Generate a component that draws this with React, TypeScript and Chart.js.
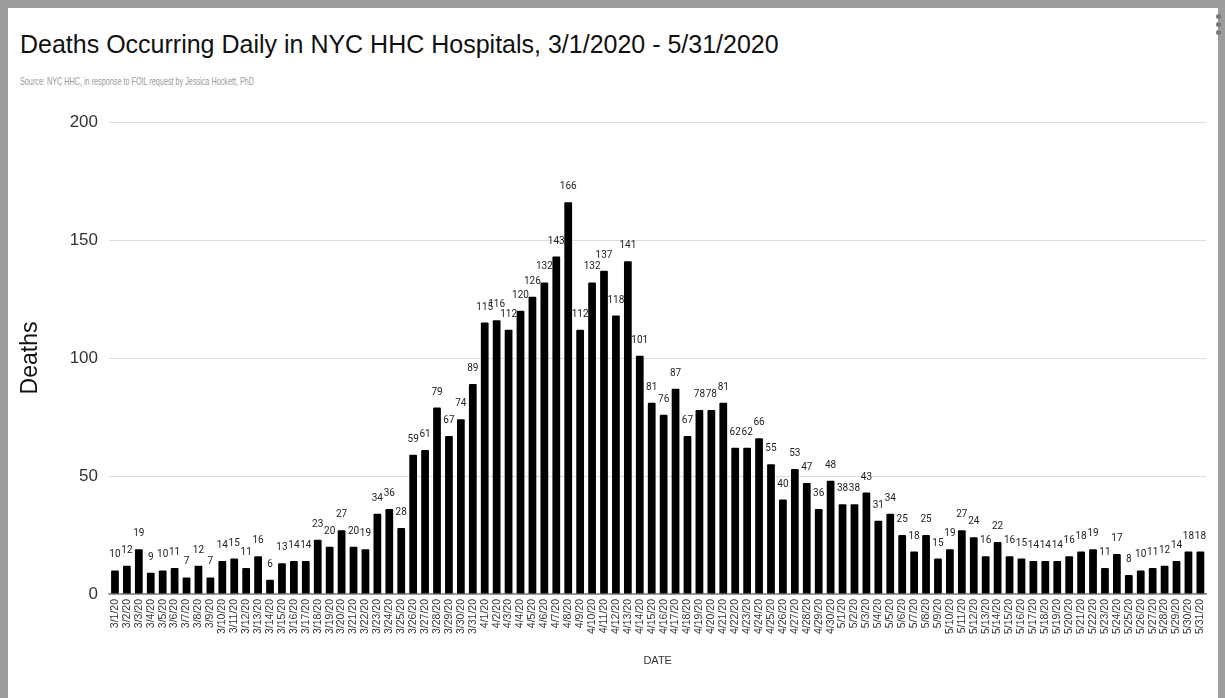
import React, { useEffect, useRef } from "react";
import Chart from "chart.js/auto";

const titleText = "Deaths Occurring Daily in NYC HHC Hospitals, 3/1/2020 - 5/31/2020";
const subtitleText = "Source: NYC HHC, in response to FOIL request by Jessica Hockett, PhD";
const yAxisTitle = "Deaths";
const xAxisTitle = "DATE";

const marchDates = [
  "3/1/20", "3/2/20", "3/3/20", "3/4/20", "3/5/20", "3/6/20", "3/7/20", "3/8/20", "3/9/20", "3/10/20",
  "3/11/20", "3/12/20", "3/13/20", "3/14/20", "3/15/20", "3/16/20", "3/17/20", "3/18/20", "3/19/20", "3/20/20",
  "3/21/20", "3/22/20", "3/23/20", "3/24/20", "3/25/20", "3/26/20", "3/27/20", "3/28/20", "3/29/20", "3/30/20",
  "3/31/20",
];
const aprilDates = [
  "4/1/20", "4/2/20", "4/3/20", "4/4/20", "4/5/20", "4/6/20", "4/7/20", "4/8/20", "4/9/20", "4/10/20",
  "4/11/20", "4/12/20", "4/13/20", "4/14/20", "4/15/20", "4/16/20", "4/17/20", "4/18/20", "4/19/20", "4/20/20",
  "4/21/20", "4/22/20", "4/23/20", "4/24/20", "4/25/20", "4/26/20", "4/27/20", "4/28/20", "4/29/20", "4/30/20",
];
const mayDates = [
  "5/1/20", "5/2/20", "5/3/20", "5/4/20", "5/5/20", "5/6/20", "5/7/20", "5/8/20", "5/9/20", "5/10/20",
  "5/11/20", "5/12/20", "5/13/20", "5/14/20", "5/15/20", "5/16/20", "5/17/20", "5/18/20", "5/19/20", "5/20/20",
  "5/21/20", "5/22/20", "5/23/20", "5/24/20", "5/25/20", "5/26/20", "5/27/20", "5/28/20", "5/29/20", "5/30/20",
  "5/31/20",
];

const marchDeaths = [10, 12, 19, 9, 10, 11, 7, 12, 7, 14, 15, 11, 16, 6, 13, 14, 14, 23, 20, 27, 20, 19, 34, 36, 28, 59, 61, 79, 67, 74, 89];
const aprilDeaths = [115, 116, 112, 120, 126, 132, 143, 166, 112, 132, 137, 118, 141, 101, 81, 76, 87, 67, 78, 78, 81, 62, 62, 66, 55, 40, 53, 47, 36, 48];
const mayDeaths = [38, 38, 43, 31, 34, 25, 18, 25, 15, 19, 27, 24, 16, 22, 16, 15, 14, 14, 14, 16, 18, 19, 11, 17, 8, 10, 11, 12, 14, 18, 18];

const yTicks = [0, 50, 100, 150, 200];

const categories = [...marchDates, ...aprilDates, ...mayDates];
const deaths = [...marchDeaths, ...aprilDeaths, ...mayDeaths];

const valueLabels = {
  id: "valueLabels",
  afterDatasetsDraw(chart: any) {
    const ctx = chart.ctx;
    const meta = chart.getDatasetMeta(0);
    const data = chart.data.datasets[0].data as number[];
    ctx.save();
    ctx.font = "10px Roboto, 'Liberation Sans', sans-serif";
    ctx.fillStyle = "#222";
    ctx.textAlign = "center";
    ctx.textBaseline = "alphabetic";
    meta.data.forEach((bar: any, i: number) => {
      ctx.fillText(String(data[i]), bar.x, bar.y - 13);
    });
    ctx.restore();
  },
};

export default function App() {
  const canvasRef = useRef<HTMLCanvasElement | null>(null);

  useEffect(() => {
    if (!canvasRef.current) return;
    const chart = new Chart(canvasRef.current, {
      type: "bar",
      data: {
        labels: categories,
        datasets: [
          {
            label: "Deaths",
            data: deaths,
            backgroundColor: "#000000",
            borderWidth: 0,
            borderRadius: 1,
            categoryPercentage: 1,
            barPercentage: 0.65,
          },
        ],
      },
      options: {
        responsive: false,
        animation: false,
        layout: { padding: { top: 22, right: 4, left: 0, bottom: 0 } },
        plugins: {
          legend: { display: false },
          tooltip: { enabled: false },
        },
        scales: {
          x: {
            offset: true,
            grid: { display: false, drawTicks: false },
            border: { display: true, color: "#9a9a9a", width: 1.5 },
            ticks: {
              autoSkip: false,
              minRotation: 90,
              maxRotation: 90,
              padding: 5,
              color: "#333",
              font: { family: "'Liberation Sans', Arial, sans-serif", size: 10.5 },
            },
            title: {
              display: true,
              text: xAxisTitle,
              color: "#333",
              font: { family: "'Liberation Sans', Arial, sans-serif", size: 11 },
              padding: { top: 0, bottom: 30 },
            },
            afterFit(scale: any) {
              scale.height = 104;
            },
          },
          y: {
            min: 0,
            max: 200,
            afterBuildTicks(scale: any) {
              scale.ticks = yTicks.map((v) => ({ value: v }));
            },
            grid: {
              drawTicks: false,
              color: (c: any) => (c.tick && c.tick.value === 0 ? "#9a9a9a" : "#dedede"),
              lineWidth: 1,
            },
            border: { display: false },
            ticks: {
              padding: 11,
              color: "#333",
              font: { family: "'Liberation Sans', Arial, sans-serif", size: 17 },
            },
            title: {
              display: true,
              text: yAxisTitle,
              color: "#111",
              font: { family: "'Liberation Sans', Arial, sans-serif", size: 23 },
              padding: { top: 9, bottom: 0 },
            },
            afterFit(scale: any) {
              scale.width = 101;
            },
          },
        },
      },
      plugins: [valueLabels],
    });
    return () => chart.destroy();
  }, []);

  return (
    <div
      style={{
        position: "fixed",
        left: 0,
        top: 0,
        width: 1225,
        height: 698,
        background: "#9c9c9c",
        overflow: "hidden",
      }}
    >
      <div
        style={{
          position: "absolute",
          left: 8,
          top: 8,
          width: 1210,
          height: 690,
          background: "#ffffff",
        }}
      />
      {[14, 22, 30].map((y) => (
        <div
          key={y}
          style={{
            position: "absolute",
            left: 1216,
            top: y,
            width: 5,
            height: 5,
            borderRadius: 3,
            background: "#7a7a7a",
          }}
        />
      ))}
      <div
        style={{
          position: "absolute",
          left: 20,
          top: 32,
          fontFamily: "'Liberation Sans', Arial, sans-serif",
          fontSize: 25,
          lineHeight: "25px",
          color: "#111",
          whiteSpace: "nowrap",
        }}
      >
        {titleText}
      </div>
      <div
        style={{
          position: "absolute",
          left: 20,
          top: 76,
          fontFamily: "'Liberation Sans', Arial, sans-serif",
          fontSize: 10.5,
          lineHeight: "10.5px",
          color: "#9a9a9a",
          whiteSpace: "nowrap",
          transform: "scaleX(0.69)",
          transformOrigin: "left top",
        }}
      >
        {subtitleText}
      </div>
      <canvas
        ref={canvasRef}
        width={1210}
        height={598}
        style={{ position: "absolute", left: 8, top: 100, width: 1210, height: 598 }}
      />
    </div>
  );
}
